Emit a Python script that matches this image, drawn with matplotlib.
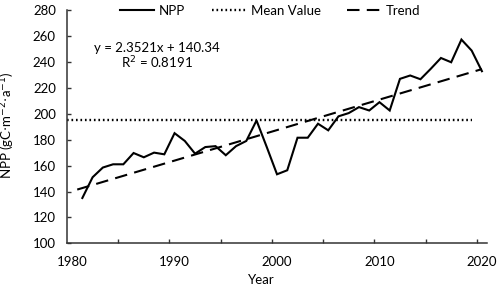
import numpy as np
import matplotlib.pyplot as plt

# NPP per year
years = np.arange(1981, 2021)
npp = [135, 151, 158.5, 161, 161, 169.7, 166.4, 170, 168.7, 185,
       179, 169.2, 174.3, 175, 168, 175, 179, 194.8, 174.3, 153.3,
       156.4, 181.5, 181.5, 192.3, 187.2, 198, 200.5, 205.1, 202.5, 208.9,
       202.5, 226.9, 229.5, 226.6, 234.6, 243, 239.7, 257.2, 248.7, 232.8]
mean_value = 195
# trend line from the chart equation (x = year index, 1981 -> 1)
slope = 2.3521
intercept = 140.34
r_squared = 0.8191

plt.rcParams['font.family'] = ['Lato', 'DejaVu Sans']
fs = 9.5

fig = plt.figure(figsize=(4.98, 2.86), dpi=100)
ax = fig.add_axes([0.1345, 0.149, 0.978 - 0.1345, 0.965 - 0.149])

ax.plot(years, npp, color='black', lw=1.5, label='NPP', solid_joinstyle='miter')
ax.plot([1979.5, 2019], [mean_value, mean_value], color='black', lw=1.7,
        linestyle=(0, (0.7, 1.2)), label='Mean Value')
tx = np.array([0.5, 40])
ax.plot(1980 + tx, slope * tx + intercept, color='black', lw=1.5,
        linestyle=(0, (6, 3.5)), label='Trend')

ax.set_xlim(1979.5, 2020.5)
ax.set_ylim(100, 280)
ax.set_xticks([1980, 1990, 2000, 2010, 2020])
ax.set_xticks(np.arange(1984.5, 2020, 5), minor=True)
ax.set_yticks(np.arange(100, 281, 20))
ax.tick_params(axis='x', which='major', length=0, pad=9, labelsize=fs)
ax.tick_params(axis='x', which='minor', direction='in', length=3, width=1, color='#333333')
ax.tick_params(axis='y', direction='in', length=3, width=1, pad=8, labelsize=fs,
               color='#333333')

for s in ['top', 'right']:
    ax.spines[s].set_visible(False)
for s in ['left', 'bottom']:
    ax.spines[s].set_linewidth(1.1)
    ax.spines[s].set_color('#333333')

ax.set_xlabel('Year', fontsize=fs)
ax.xaxis.set_label_coords(0.462, -0.13)
ax.set_ylabel('NPP (gC$\\cdot$m$^{-2}$$\\cdot$a$^{-1}$)', fontsize=fs)
ax.yaxis.set_label_coords(-0.118, 0.507)

ax.text(0.214, 0.837, f'y = {slope}x + {intercept}', transform=ax.transAxes,
        ha='center', va='center', fontsize=fs)
ax.text(0.214, 0.773, f'R$^2$ = {r_squared}', transform=ax.transAxes,
        ha='center', va='center', fontsize=fs)

fig.legend(loc='center left', bbox_to_anchor=(0.241, 0.962), ncol=3, frameon=False,
           fontsize=fs, handlelength=2.6, handletextpad=0.35, columnspacing=2.0,
           borderpad=0, borderaxespad=0)

fig.savefig('out.png', dpi=100)
